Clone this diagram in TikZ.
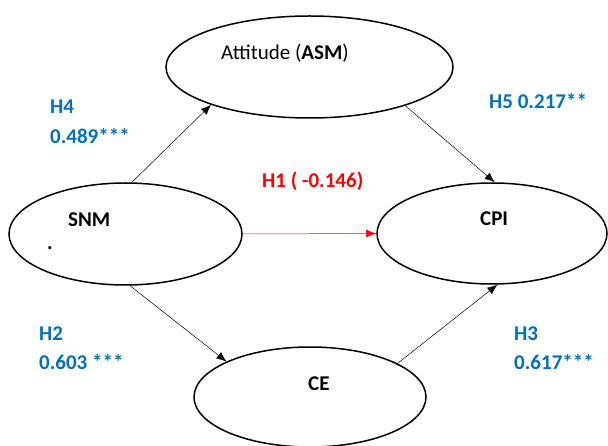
\documentclass[tikz,border=0pt]{standalone}
\usepackage{fontspec}
\setmainfont{Carlito}
\usetikzlibrary{shapes.geometric,arrows.meta}

\definecolor{pathblue}{RGB}{0,112,192}

\begin{document}
\begin{tikzpicture}[x=1pt,y=-1pt,
		construct/.style={draw,ellipse,line width=1.5pt,inner sep=0pt},
		pathline/.style={line width=0.5pt,-{Latex[length=10pt,width=8pt]}},
		coef/.style={anchor=base west,inner sep=0pt,font=\fontsize{21}{27}\selectfont\bfseries,text=pathblue,align=left},
		cname/.style={anchor=base west,inner sep=0pt,font=\fontsize{21}{25}\selectfont}]
		\useasboundingbox (0,0) rectangle (608,446);
		% constructs
		\node[construct,minimum width=287pt,minimum height=102pt] (asm) at (309.5,67) {};
		\node[construct,minimum width=233pt,minimum height=102pt] (snm) at (125.5,234) {};
		\node[construct,minimum width=230pt,minimum height=101pt] (cpi) at (492,233.5) {};
		\node[construct,minimum width=232pt,minimum height=100pt] (ce) at (310,397) {};
		\node[cname] (asmtext) at (221,60) {Attitude (\textbf{ASM})};
		\node[cname,font=\fontsize{21}{25}\selectfont\bfseries] (snmtext) at (68,227) {SNM};
		\node[cname,font=\fontsize{21}{25}\selectfont\bfseries] (snmdot) at (47,250) {.};
		\node[cname,font=\fontsize{21}{25}\selectfont\bfseries] (cpitext) at (480,226) {CPI};
		\node[cname,font=\fontsize{21}{25}\selectfont\bfseries] (cetext) at (308,390) {CE};
		% paths
		\draw[pathline] (snm.83) -- (asm.201);
		\draw[pathline] (asm.338) -- (cpi.87);
		\draw[pathline] (snm.275) -- (ce.157);
		\draw[pathline] (ce.21) -- (cpi.276);
		\draw[pathline,red] (snm.east) -- (cpi.west);
		% coefficients (base = last line)
		\node[coef] (h4) at (50,144) {H4\\[3pt]0.489***};
		\node[coef] (h5) at (489,109) {H5 0.217**};
		\node[coef,text=red] (h1) at (262,188) {H1 ( -0.146)};
		\node[coef] (h2) at (39,370) {H2\\[2pt]0.603 ***};
		\node[coef] (h3) at (514,370) {H3\\[2pt]0.617***};
	\end{tikzpicture}
\end{document}
